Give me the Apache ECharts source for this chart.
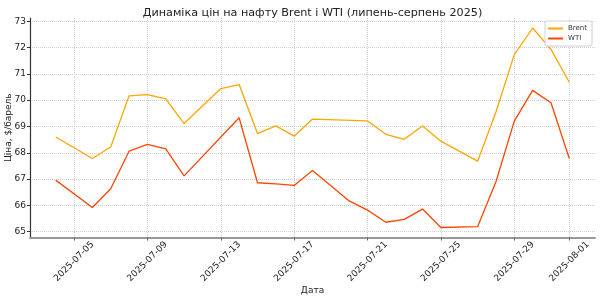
<!DOCTYPE html>
<html>
<head>
<meta charset="utf-8">
<script src="https://cdn.jsdelivr.net/npm/echarts@6/dist/echarts.min.js"></script>
<style>html,body{margin:0;padding:0;background:#fff}#c{width:600px;height:297px}</style>
</head>
<body>
<div id="c"></div>
<script>
const brentDates = ['2025-07-04','2025-07-06','2025-07-07','2025-07-08','2025-07-09','2025-07-10','2025-07-11','2025-07-13','2025-07-14','2025-07-15','2025-07-16','2025-07-17','2025-07-18','2025-07-21','2025-07-22','2025-07-23','2025-07-24','2025-07-25','2025-07-27','2025-07-28','2025-07-29','2025-07-30','2025-07-31','2025-08-01'];
const brentValues = [68.60,67.78,68.22,70.16,70.21,70.05,69.11,70.44,70.59,68.73,69.02,68.63,69.28,69.21,68.70,68.51,69.02,68.44,67.68,69.55,71.73,72.74,71.93,70.68];
const wtiDates = ['2025-07-04','2025-07-06','2025-07-07','2025-07-08','2025-07-09','2025-07-10','2025-07-11','2025-07-14','2025-07-15','2025-07-16','2025-07-17','2025-07-18','2025-07-20','2025-07-21','2025-07-22','2025-07-23','2025-07-24','2025-07-25','2025-07-27','2025-07-28','2025-07-29','2025-07-30','2025-07-31','2025-08-01'];
const wtiValues = [66.96,65.92,66.63,68.06,68.32,68.15,67.12,69.33,66.86,66.82,66.76,67.33,66.17,65.82,65.36,65.47,65.86,65.16,65.19,66.90,69.20,70.37,69.90,67.78];
const xTickLabels = ['2025-07-05','2025-07-09','2025-07-13','2025-07-17','2025-07-21','2025-07-25','2025-07-29','2025-08-01'];
const yTickValues = [65,66,67,68,69,70,71,72,73];

const ts = s => { const [y,m,d] = s.split('-').map(Number); return Date.UTC(y, m-1, d); };
const xTicks = xTickLabels.map(ts);
const first = ts(brentDates[0]), last = ts(brentDates[brentDates.length-1]);
const span = last - first;

const chart = echarts.init(document.getElementById('c'), null, {renderer:'canvas'});
const font = 'DejaVu Sans';
chart.setOption({
  animation:false,
  backgroundColor:'#fff',
  textStyle:{fontFamily:font},
  title:{text:'Динаміка цін на нафту Brent і WTI (липень-серпень 2025)', left:307.5, textAlign:'center', top:3,
    textStyle:{fontFamily:font, fontSize:11.2, fontWeight:'normal', color:'#222'}},
  grid:{left:30, right:5, top:18, bottom:59.5, containLabel:false, outerBoundsMode:'none'},
  legend:{right:8, top:21, orient:'vertical', backgroundColor:'#fff', borderColor:'#d0d0d0', borderWidth:1, borderRadius:2,
    padding:[4,5,4,3], itemGap:3, itemWidth:15, itemHeight:2, icon:'rect', textStyle:{fontSize:7, color:'#333', fontFamily:font},
    data:['Brent','WTI']},
  xAxis:{type:'value', min:first - span*0.05, max:last + span*0.05,
    name:'Дата', nameLocation:'middle', nameGap:49, nameMoveOverlap:false, nameTextStyle:{fontSize:9, color:'#222', fontFamily:font},
    axisLine:{lineStyle:{color:'#999', width:2}},
    axisTick:{show:true, length:3, customValues:xTicks, lineStyle:{color:'#666'}},
    axisLabel:{customValues:xTicks, rotate:45, align:'center', verticalAlign:'middle', margin:24, fontSize:9, color:'#222', fontFamily:font,
      formatter:v => new Date(v).toISOString().slice(0,10)},
    splitLine:{show:true, lineStyle:{type:'dotted', color:'#d0d0d0', width:1}}},
  yAxis:{type:'value', min:64.78, max:73.12,
    name:'Ціна, $/барель', nameLocation:'middle', nameGap:17, nameMoveOverlap:false, nameTextStyle:{fontSize:9, color:'#222', fontFamily:font},
    axisLine:{show:true, lineStyle:{color:'#333', width:1.2}},
    axisTick:{show:true, length:3, customValues:yTickValues, lineStyle:{color:'#333'}},
    axisLabel:{customValues:yTickValues, fontSize:9, color:'#222', margin:4, fontFamily:font},
    splitLine:{show:true, lineStyle:{type:'dotted', color:'#d0d0d0', width:1}}},
  series:[
    {name:'Brent', type:'line', symbol:'none', color:'#FFA500', lineStyle:{width:1.3},
      data:brentDates.map((d,i)=>[ts(d), brentValues[i]])},
    {name:'WTI', type:'line', symbol:'none', color:'#FF4500', lineStyle:{width:1.3},
      data:wtiDates.map((d,i)=>[ts(d), wtiValues[i]])}
  ]
});
</script>
</body>
</html>
